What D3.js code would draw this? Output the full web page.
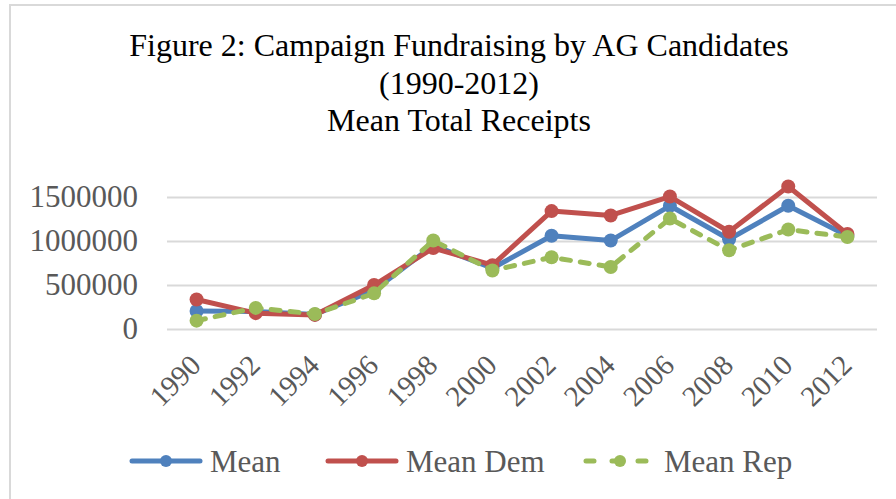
<!DOCTYPE html>
<html>
<head>
<meta charset="utf-8">
<script src="https://cdn.jsdelivr.net/npm/d3@7"></script>
<style>
  html, body { margin: 0; padding: 0; background: #fff; }
  svg { display: block; }
</style>
</head>
<body>
<div id="root"></div>
<script>
// values
const years = ['1990', '1992', '1994', '1996', '1998', '2000', '2002', '2004', '2006', '2008', '2010', '2012'];
const meanAll = [205000, 200000, 165000, 440000, 950000, 690000, 1060000, 1005000, 1400000, 1020000, 1400000, 1060000];
const meanDem = [335000, 180000, 160000, 500000, 920000, 725000, 1340000, 1290000, 1505000, 1105000, 1620000, 1080000];
const meanRep = [95000, 240000, 170000, 405000, 1005000, 665000, 815000, 705000, 1255000, 895000, 1130000, 1045000];
const yTicks = [0, 500000, 1000000, 1500000];
const titleLines = ['Figure 2: Campaign Fundraising by AG Candidates', '(1990-2012)', 'Mean Total Receipts'];

const series = [
  { name: 'Mean', values: meanAll, color: '#4F81BD', dash: null },
  { name: 'Mean Dem', values: meanDem, color: '#C0504D', dash: null },
  { name: 'Mean Rep', values: meanRep, color: '#9BBB59', dash: '9,10' },
];

const W = 896, H = 499;
const FONT = '"Liberation Serif", "Times New Roman", serif';
const plot = { left: 167, right: 877, top: 190, bottom: 329 };

const svg = d3.select('#root').append('svg')
  .attr('width', W)
  .attr('height', H)
  .style('font-family', FONT);

// chart border (runs off the right and bottom of the picture)
svg.append('rect')
  .attr('x', 10).attr('y', 5)
  .attr('width', W + 20).attr('height', H + 20)
  .attr('fill', '#fff')
  .attr('stroke', '#d9d9d9')
  .attr('stroke-width', 2);

// title
svg.append('g')
  .selectAll('text')
  .data(titleLines)
  .join('text')
  .attr('x', 459)
  .attr('y', (d, i) => 56 + i * 37.5)
  .attr('text-anchor', 'middle')
  .attr('font-size', 32)
  .attr('fill', '#000')
  .text(d => d);

const x = d3.scaleBand().domain(years).range([plot.left, plot.right]);
const y = d3.scaleLinear().domain([0, 1500000]).range([plot.bottom, plot.bottom - 132]);

// gridlines + y labels
const yAxis = svg.append('g')
  .attr('transform', `translate(${plot.left},0)`)
  .call(d3.axisLeft(y).tickValues(yTicks).tickSize(-(plot.right - plot.left)).tickPadding(29).tickFormat(d3.format('d')));
yAxis.select('.domain').remove();
yAxis.selectAll('.tick line').attr('stroke', '#d9d9d9').attr('stroke-width', 2);
yAxis.selectAll('.tick text')
  .attr('fill', '#595959')
  .attr('font-size', 31)
  .attr('font-family', FONT)
  .attr('dy', '0.32em');

// x labels, rotated
const xAxis = svg.append('g')
  .attr('transform', `translate(0,${plot.bottom})`)
  .call(d3.axisBottom(x).tickSize(0).tickPadding(0));
xAxis.select('.domain').remove();
xAxis.selectAll('.tick text')
  .attr('fill', '#595959')
  .attr('font-size', 29)
  .attr('font-family', FONT)
  .attr('text-anchor', 'end')
  .attr('dy', null)
  .attr('y', 0)
  .attr('transform', 'translate(6,38) rotate(-45)');

const cx = d => x(d) + x.bandwidth() / 2;
const line = vals => d3.line().x((d, i) => cx(years[i])).y(d => y(d))(vals);

series.forEach(s => {
  const g = svg.append('g');
  g.append('path')
    .attr('d', line(s.values))
    .attr('fill', 'none')
    .attr('stroke', s.color)
    .attr('stroke-width', 5)
    .attr('stroke-linejoin', 'round')
    .attr('stroke-linecap', 'round')
    .attr('stroke-dasharray', s.dash);
  g.selectAll('circle')
    .data(s.values)
    .join('circle')
    .attr('cx', (d, i) => cx(years[i]))
    .attr('cy', d => y(d))
    .attr('r', 7)
    .attr('fill', s.color);
});

// legend
const legendPos = [132, 328, 586];
const leg = svg.append('g').attr('transform', 'translate(0,461)');
series.forEach((s, i) => {
  const lx = legendPos[i];
  leg.append('line')
    .attr('x1', lx).attr('x2', lx + 68)
    .attr('y1', 0).attr('y2', 0)
    .attr('stroke', s.color)
    .attr('stroke-width', 5)
    .attr('stroke-linecap', 'round')
    .attr('stroke-dasharray', s.dash ? '8,18' : null);
  leg.append('circle')
    .attr('cx', lx + 34).attr('cy', 0).attr('r', 6)
    .attr('fill', s.color);
  leg.append('text')
    .attr('x', lx + 78)
    .attr('y', 11)
    .attr('font-size', 31)
    .attr('fill', '#595959')
    .text(s.name);
});
</script>
</body>
</html>
